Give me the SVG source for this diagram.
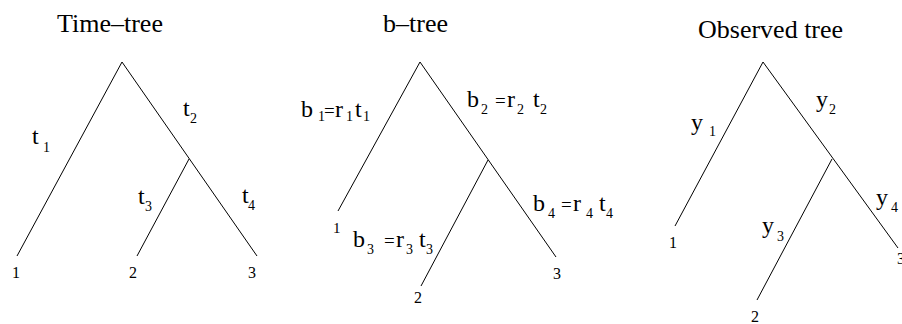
<svg xmlns="http://www.w3.org/2000/svg" width="902" height="324" viewBox="0 0 902 324">
<style>
text{font-family:"Liberation Serif","Times New Roman",serif;fill:#000}
.title{font-size:26px}
.lab{font-size:24px}
.sub{font-size:14px}
.eq{font-size:19px}
.leaf{font-size:16px}
.edge{stroke:#000;stroke-width:1;fill:none}
</style>
<rect width="902" height="324" fill="#fff"/>
<g id="titles">
<text class="title" x="57" y="32">Time–tree</text>
<text class="title" x="383" y="32">b–tree</text>
<text class="title" x="698" y="38">Observed tree</text>
</g>
<g id="connectors">
<path class="edge" d="M122 62 L17 256 M122 62 L257 256 M189 159 L137 256"/>
<path class="edge" d="M420 62 L338 211 M420 62 L556 257 M488 160 L421 286"/>
<path class="edge" d="M763 62 L675 226 M763 62 L898 248 M832 159 L757 300"/>
</g>
<g id="tree1">
<g id="t1-leaf1"><text class="leaf" x="12" y="278">1</text></g>
<g id="t1-leaf2"><text class="leaf" x="129" y="278">2</text></g>
<g id="t1-leaf3"><text class="leaf" x="248" y="278">3</text></g>
<text class="lab" x="32" y="144">t<tspan class="sub" x="43" y="152">1</tspan></text>
<text class="lab" x="183" y="116">t<tspan class="sub" x="190" y="123">2</tspan></text>
<text class="lab" x="138" y="204">t<tspan class="sub" x="145" y="211">3</tspan></text>
<text class="lab" x="242" y="203">t<tspan class="sub" x="248" y="210">4</tspan></text>
</g>
<g id="tree2">
<g id="t2-leaf1"><text class="leaf" x="333" y="233" style="font-size:15px">1</text></g>
<g id="t2-leaf2"><text class="leaf" x="414" y="303">2</text></g>
<g id="t2-leaf3"><text class="leaf" x="553" y="279">3</text></g>
<text class="lab" x="301" y="117">b<tspan class="sub" x="318" y="121">1</tspan><tspan class="eq" x="324" y="117">=</tspan><tspan x="335" y="117">r</tspan><tspan class="sub" x="346" y="121">1</tspan><tspan x="355" y="117">t</tspan><tspan class="sub" x="363" y="121">1</tspan></text>
<text class="lab" x="467" y="107">b<tspan class="sub" x="481" y="114">2</tspan><tspan class="eq" x="495" y="107">=</tspan><tspan x="507" y="107">r</tspan><tspan class="sub" x="517" y="114">2</tspan><tspan x="533" y="107">t</tspan><tspan class="sub" x="540" y="114">2</tspan></text>
<text class="lab" x="353" y="247">b<tspan class="sub" x="367" y="254">3</tspan><tspan class="eq" x="384" y="247">=</tspan><tspan x="396" y="247">r</tspan><tspan class="sub" x="406" y="254">3</tspan><tspan x="419" y="247">t</tspan><tspan class="sub" x="426" y="254">3</tspan></text>
<text class="lab" x="533" y="211">b<tspan class="sub" x="548" y="218">4</tspan><tspan class="eq" x="561" y="211">=</tspan><tspan x="573" y="211">r</tspan><tspan class="sub" x="586" y="218">4</tspan><tspan x="599" y="211">t</tspan><tspan class="sub" x="606" y="218">4</tspan></text>
</g>
<g id="tree3">
<g id="t3-leaf1"><text class="leaf" x="669" y="248">1</text></g>
<g id="t3-leaf2"><text class="leaf" x="751" y="322">2</text></g>
<g id="t3-leaf3"><text class="leaf" x="897" y="264">3</text></g>
<text class="lab" x="691" y="130">y<tspan class="sub" x="709" y="136">1</tspan></text>
<text class="lab" x="816" y="107">y<tspan class="sub" x="829" y="114">2</tspan></text>
<text class="lab" x="762" y="233">y<tspan class="sub" x="777" y="241">3</tspan></text>
<text class="lab" x="876" y="205">y<tspan class="sub" x="891" y="212">4</tspan></text>
</g>
</svg>
